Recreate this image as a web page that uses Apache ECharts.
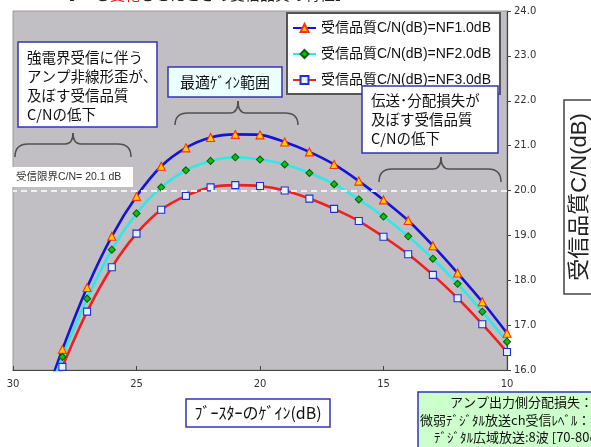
<!DOCTYPE html>
<html><head><meta charset="utf-8">
<script src="https://cdn.jsdelivr.net/npm/echarts@6/dist/echarts.min.js"></script>
<style>html,body{margin:0;padding:0;background:#fff;}#c{width:591px;height:447px;}</style>
</head><body><div id="c"></div>
<script>
// ---- data ----
const gains = [29, 28, 27, 26, 25, 24, 23, 22, 21, 20, 19, 18, 17, 16, 15, 14, 13, 12, 11, 10];
const nf1 = [14.9, 16.46, 17.84, 18.98, 19.87, 20.54, 20.95, 21.18, 21.25, 21.24, 21.08, 20.86, 20.58, 20.21, 19.79, 19.33, 18.77, 18.16, 17.52, 16.82];
const nf2 = [14.8, 16.29, 17.59, 18.68, 19.49, 20.07, 20.45, 20.66, 20.74, 20.69, 20.58, 20.39, 20.14, 19.80, 19.42, 18.98, 18.48, 17.92, 17.30, 16.63];
const nf3 = [14.7, 16.07, 17.30, 18.29, 19.04, 19.57, 19.88, 20.07, 20.12, 20.10, 20.00, 19.82, 19.59, 19.32, 18.97, 18.58, 18.12, 17.60, 17.02, 16.40];
const seriesNames = ['受信品質C/N(dB)=NF1.0dB', '受信品質C/N(dB)=NF2.0dB', '受信品質C/N(dB)=NF3.0dB'];
const limitLine = 20.0;
const xRange = [10, 30];
const yRange = [16, 24];

const FF = "'Liberation Sans','Noto Sans CJK JP',sans-serif";
const FJ = "'Noto Sans CJK JP','Liberation Sans',sans-serif";

function mk(name, vals, color, symbol, size, fill, border) {
  return {
    name, type: 'line', data: gains.map((g, i) => [g, vals[i]]),
    smooth: 0.3, clip: true, symbol, symbolSize: size, showAllSymbol: true,
    lineStyle: { color, width: 2.6 },
    itemStyle: { color: fill, borderColor: border, borderWidth: 1.1 },
    emphasis: { disabled: true }, animation: false, z: 3
  };
}

const boxBlue = '#3535b5';
const braceStyle = { fill: 'none', stroke: '#505050', lineWidth: 1.5 };
function brace(x0, x1, tx, yTip, yH, yEnd) {
  const r = 13, t = 8;
  const q = (ax, ay, cx, cy, bx, by) => ({ type: 'bezierCurve', shape: { x1: ax, y1: ay, x2: bx, y2: by, cpx1: cx, cpy1: cy }, style: braceStyle, z: 10 });
  const l = (ax, ay, bx, by) => ({ type: 'line', shape: { x1: ax, y1: ay, x2: bx, y2: by }, style: braceStyle, z: 10 });
  return [
    q(x0, yEnd, x0, yH, x0 + r, yH),
    l(x0 + r, yH, tx - t, yH),
    q(tx - t, yH, tx, yH, tx, yTip),
    q(tx, yTip, tx, yH, tx + t, yH),
    l(tx + t, yH, x1 - r, yH),
    q(x1 - r, yH, x1, yH, x1, yEnd)
  ];
}

const graphics = [
  // title (cut off at top)
  { type: 'text', x: 60, y: 2, style: { text: '【NFを', fontSize: 15, fontFamily: FJ, fill: '#222', textVerticalAlign: 'bottom' } },
  { type: 'text', x: 110, y: 2, style: { text: '変化', fontSize: 15, fontFamily: FJ, fill: '#e02020', textVerticalAlign: 'bottom' } },
  { type: 'text', x: 140, y: 2, style: { text: 'させたときの受信品質の特性】', fontSize: 15, fontFamily: FJ, fill: '#222', textVerticalAlign: 'bottom' } },
  // box 1
  { type: 'rect', shape: { x: 18, y: 42, width: 139, height: 85 }, style: { fill: '#fff', stroke: boxBlue, lineWidth: 1.5 }, z: 10 },
  { type: 'text', x: 27, y: 48, style: { text: '強電界受信に伴う\nアンプ非線形歪が、\n及ぼす受信品質\nC/Nの低下', fontSize: 14.5, lineHeight: 19, fontFamily: FJ, fill: '#111' }, z: 11 },
  ...brace(15, 131, 73, 133, 144, 157),
  // box 2
  { type: 'rect', shape: { x: 168, y: 67, width: 114, height: 30 }, style: { fill: '#ecffff', stroke: boxBlue, lineWidth: 1.5 }, z: 10 },
  { type: 'text', x: 225, y: 82, style: { text: '最適ｹﾞｲﾝ範囲', fontSize: 15, fontFamily: FJ, fill: '#111', textAlign: 'center', textVerticalAlign: 'middle' }, z: 11 },
  ...brace(175, 298, 238, 101, 113, 125),
  // box 3
  { type: 'rect', shape: { x: 362, y: 86, width: 136, height: 67 }, style: { fill: '#fff', stroke: boxBlue, lineWidth: 1.5 }, z: 10 },
  { type: 'text', x: 371, y: 91, style: { text: '伝送･分配損失が\n及ぼす受信品質\nC/Nの低下', fontSize: 14.5, lineHeight: 19, fontFamily: FJ, fill: '#111' }, z: 11 },
  ...brace(379, 501, 441, 157, 169, 182),
  // limit label
  { type: 'rect', shape: { x: 12, y: 167, width: 121, height: 20 }, style: { fill: '#fff' }, z: 10 },
  { type: 'text', x: 16, y: 177, style: { text: '受信限界C/N= 20.1 dB', fontSize: 10.5, fontFamily: FF, fill: '#333', textVerticalAlign: 'middle' }, z: 11 },
  // y axis title
  { type: 'rect', shape: { x: 564, y: 100, width: 40, height: 194 }, style: { fill: '#fff', stroke: '#444', lineWidth: 1.5 }, z: 10 },
  { type: 'text', x: 580, y: 197, rotation: Math.PI / 2, style: { text: '受信品質C/N(dB)', fontSize: 22, fontFamily: FF, fill: '#222', textAlign: 'center', textVerticalAlign: 'middle' }, z: 11 },
  // x axis title
  { type: 'rect', shape: { x: 186, y: 399, width: 144, height: 28 }, style: { fill: '#fff', stroke: boxBlue, lineWidth: 1.5 }, z: 10 },
  { type: 'text', x: 258, y: 413, style: { text: 'ﾌﾞｰｽﾀｰのｹﾞｲﾝ(dB)', fontSize: 16, fontFamily: FJ, fill: '#111', textAlign: 'center', textVerticalAlign: 'middle' }, z: 11 },
  // green note box
  { type: 'rect', shape: { x: 418, y: 392, width: 190, height: 70 }, style: { fill: '#ccffcc', stroke: boxBlue, lineWidth: 1.5 }, z: 10 },
  { type: 'text', x: 450, y: 402, style: { text: 'アンプ出力側分配損失：10dB', fontSize: 13, fontFamily: FJ, fill: '#111', textVerticalAlign: 'middle' }, z: 11 },
  { type: 'text', x: 420, y: 420, style: { text: '微弱ﾃﾞｼﾞﾀﾙ放送ch受信ﾚﾍﾞﾙ：', fontSize: 13, fontFamily: FJ, fill: '#111', textVerticalAlign: 'middle' }, z: 11 },
  { type: 'text', x: 434, y: 437, style: { text: 'ﾃﾞｼﾞﾀﾙ広域放送:8波 [70-80dBμV]', fontSize: 13, fontFamily: FJ, fill: '#111', textVerticalAlign: 'middle' }, z: 11 }
];

const chart = echarts.init(document.getElementById('c'), null, { renderer: 'canvas' });
chart.setOption({
  animation: false,
  backgroundColor: '#fff',
  grid: { left: 13, right: 84, top: 11, bottom: 77, show: true, backgroundColor: '#c1bfc3', borderColor: '#9a9a9a', borderWidth: 1 },
  xAxis: {
    type: 'value', min: xRange[0], max: xRange[1], interval: 5, inverse: true,
    axisLine: { show: true, onZero: false, lineStyle: { color: '#444', width: 1.2 } },
    axisTick: { show: true, inside: true, length: 4, lineStyle: { color: '#444' } },
    axisLabel: { fontSize: 10, fontFamily: "'DejaVu Sans',sans-serif", color: '#333', margin: 9 },
    splitLine: { show: false }
  },
  yAxis: {
    type: 'value', position: 'right', min: yRange[0], max: yRange[1], interval: 1,
    axisLine: { show: true, lineStyle: { color: '#444', width: 1.2 } },
    axisTick: { show: true, length: 4, lineStyle: { color: '#444' } },
    axisLabel: { fontSize: 10, fontFamily: "'DejaVu Sans',sans-serif", color: '#333', margin: 7, formatter: v => v.toFixed(1) },
    splitLine: { show: false }
  },
  legend: {
    left: 287, top: 13, orient: 'vertical', data: seriesNames, selectedMode: false,
    backgroundColor: '#fff', borderColor: '#555', borderWidth: 2,
    padding: [8, 9, 7, 5], itemGap: 12, itemWidth: 23, itemHeight: 10,
    textStyle: { fontSize: 14, color: '#111', fontFamily: FF }
  },
  series: [
    { type: 'line', data: [], z: 1, silent: true,
      markLine: { silent: true, symbol: 'none', label: { show: false }, animation: false,
        lineStyle: { color: '#f0f0f0', type: [6, 4], width: 2 }, data: [{ yAxis: limitLine }] } },
    mk(seriesNames[0], nf1, '#1414d8', 'triangle', 8, '#ffcc00', '#ff3300'),
    mk(seriesNames[1], nf2, '#30e8e8', 'diamond', 7, '#10c010', '#0a600a'),
    mk(seriesNames[2], nf3, '#f02020', 'rect', 7, '#e4f0ff', '#2030d0')
  ],
  graphic: graphics
});
</script></body></html>
